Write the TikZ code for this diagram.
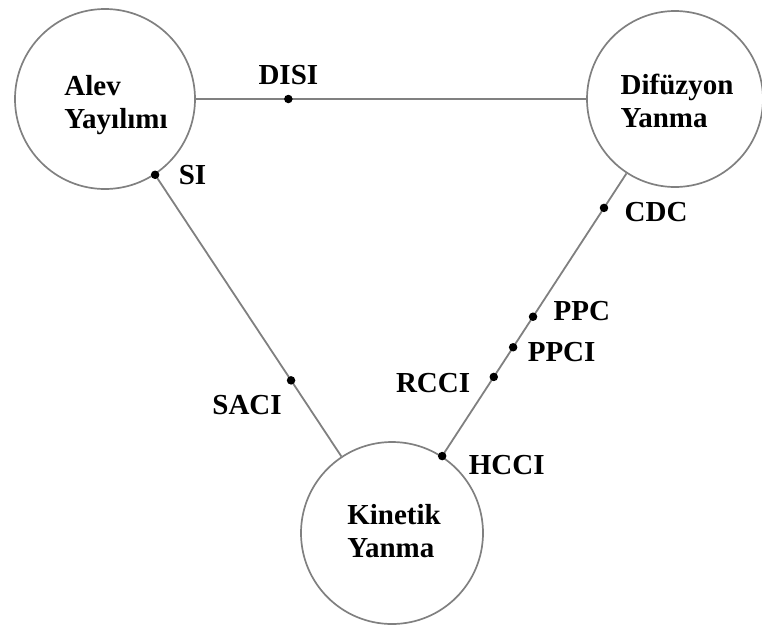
\documentclass[tikz,border=0pt]{standalone}
\usepackage{fontspec}
\setmainfont{Liberation Serif}
\usepackage{tikz}
\usetikzlibrary{positioning}
\definecolor{rim}{RGB}{128,128,128}

\begin{document}
\begin{tikzpicture}[x=1pt, y=-1pt, node distance=10pt,
      every node/.style={font=\fontsize{29}{33}\selectfont\bfseries},
      phase/.style={circle, draw=rim, line width=1.7pt, minimum size=180pt, inner sep=0pt},
      txt/.style={align=left, inner sep=0pt},
      link/.style={draw=rim, line width=1.8pt},
      dot/.style={circle, fill=black, minimum size=8.5pt, inner sep=0pt},
      lbl/.style={inner sep=1pt}]
    \useasboundingbox (0,0) rectangle (762,624);
    % the three combustion regimes
    \node[phase] (A) at (105,99) {};
    \node[txt] (Atxt) at (116,105) {Alev\\Yayılımı};
    \node[phase, minimum size=176pt] (D) at (675,99) {};
    \node[txt] (Dtxt) at (677,101) {Difüzyon\\Yanma};
    \node[phase, minimum size=182pt] (K) at (392,533) {};
    \node[txt] (Ktxt) at (394,531) {Kinetik\\Yanma};
    \draw[link] (A) -- (D); \draw[link] (A) -- (K); \draw[link] (D) -- (K);
    % modes on the edges
    \path (A) -- (D) node[dot, pos=.237] (disi) {};
    \path (A) -- (K) node[dot, pos=0] (si) {} node[dot, pos=.73] (saci) {};
    \path (D) -- (K) node[dot, pos=.122] (cdc) {} node[dot, pos=.507] (ppc) {}
      node[dot, pos=.615] (ppci) {} node[dot, pos=.72] (rcci) {} node[dot, pos=1] (hcci) {};
    \node[lbl, above=9pt of disi] (disiL) {DISI};
    \node[lbl, right=18pt of si] (siL) {SI};
    \node[lbl, below left=11pt and 5pt of saci] (saciL) {SACI};
    \node[lbl, right=15pt of cdc, yshift=-4pt] (cdcL) {CDC};
    \node[lbl, right=15pt of ppc, yshift=6pt] (ppcL) {PPC};
    \node[lbl, right=9pt of ppci, yshift=-5pt] (ppciL) {PPCI};
    \node[lbl, left=18pt of rcci, yshift=-6pt] (rcciL) {RCCI};
    \node[lbl, right=21pt of hcci, yshift=-9pt] (hcciL) {HCCI};
  \end{tikzpicture}
\end{document}
